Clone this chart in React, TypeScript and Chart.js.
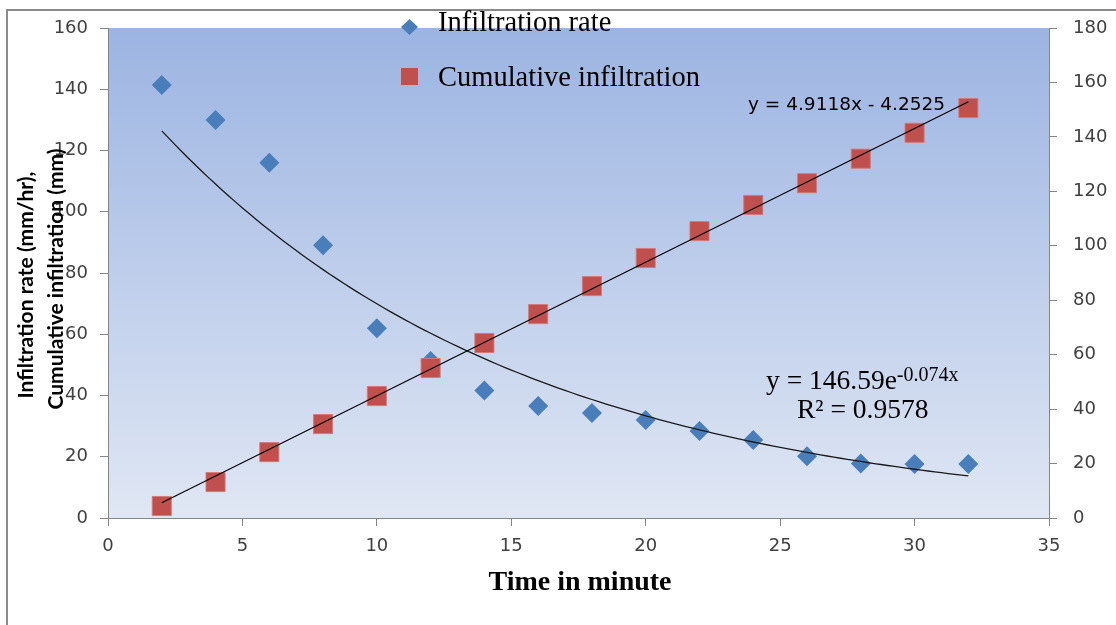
import { useEffect, useRef } from "react";
import { Chart, registerables } from "chart.js";

Chart.register(...registerables);

// ---- Data ----
const timeMinutes = [2, 4, 6, 8, 10, 12, 14, 16, 18, 20, 22, 24, 26, 28, 30, 32];
const infiltrationRate = [141.4, 130, 116, 89.1, 62, 51.3, 41.6, 36.6, 34.3, 32, 28.4, 25.5, 20.2, 17.8, 17.6, 17.6];
const cumulativeInfiltration = [4.4, 13.2, 24.2, 34.5, 44.8, 55.1, 64.3, 74.9, 85.2, 95.5, 105.4, 115, 123, 132, 141.5, 150.6];

// Trend-line coefficients printed on the chart
const linSlope = 4.9118;
const linIntercept = -4.2525;
const expA = 146.59;
const expB = -0.074;

const legendLabels = ["Infiltration rate", "Cumulative infiltration"];
const linEquationLabel = "y = 4.9118x - 4.2525";
const expEquationMain = "y = 146.59e";
const expEquationSup = "-0.074x";
const r2Label = "R\u00B2 = 0.9578";
const xTitle = "Time in minute";
const yTitleLines = ["Infiltration rate (mm/hr),", "Cumulative infiltration (mm)"];

const xMin = 0, xMax = 35, xStep = 5;
const yLeftMax = 160, yRightMax = 180, yStep = 20;

const BLUE = "#4a7ebb";
const RED = "#c0504d";
const AXIS = "#868686";
const TICK_TEXT = "#404040";

export default function App() {
  const canvasRef = useRef<HTMLCanvasElement | null>(null);

  useEffect(() => {
    const canvas = canvasRef.current;
    if (!canvas) return;

    const x0 = timeMinutes[0];
    const x1 = timeMinutes[timeMinutes.length - 1];
    const linTrend = [x0, x1].map((x) => ({ x, y: linSlope * x + linIntercept }));
    const expTrend: { x: number; y: number }[] = [];
    for (let x = x0; x <= x1 + 1e-9; x += 0.25) expTrend.push({ x, y: expA * Math.exp(expB * x) });

    const decor = {
      id: "decor",
      beforeDraw(chart: any) {
        const { ctx, chartArea: a, width, height } = chart;
        ctx.save();
        ctx.fillStyle = "#ffffff";
        ctx.fillRect(0, 0, width, height);
        const g = ctx.createLinearGradient(0, a.top, 0, a.bottom);
        g.addColorStop(0, "#9cb4e2");
        g.addColorStop(1, "#e0e7f4");
        ctx.fillStyle = g;
        ctx.fillRect(a.left, a.top, a.right - a.left, a.bottom - a.top);
        // outer frame
        ctx.strokeStyle = "#8a8a8a";
        ctx.lineWidth = 2;
        ctx.beginPath();
        ctx.moveTo(7, height);
        ctx.lineTo(7, 10);
        ctx.lineTo(width, 10);
        ctx.stroke();
        ctx.restore();
      },
      afterDraw(chart: any) {
        const { ctx } = chart;
        ctx.save();
        // Legend
        ctx.fillStyle = BLUE;
        ctx.beginPath();
        ctx.moveTo(409.5, 19);
        ctx.lineTo(418, 27);
        ctx.lineTo(409.5, 35);
        ctx.lineTo(401, 27);
        ctx.closePath();
        ctx.fill();
        ctx.fillStyle = RED;
        ctx.fillRect(401, 68, 17, 17);
        ctx.fillStyle = "#000";
        ctx.textAlign = "left";
        ctx.textBaseline = "alphabetic";
        ctx.font = "28.5px 'Liberation Serif', serif";
        ctx.fillText(legendLabels[0], 438, 31);
        ctx.fillText(legendLabels[1], 438, 86);

        // Linear equation
        ctx.fillStyle = "#000";
        ctx.font = "18.5px 'DejaVu Sans', sans-serif";
        ctx.fillText(linEquationLabel, 748, 110);

        // Exponential equation
        ctx.font = "27.5px 'Liberation Serif', serif";
        ctx.fillText(expEquationMain, 766, 389);
        const w = ctx.measureText(expEquationMain).width;
        ctx.font = "20px 'Liberation Serif', serif";
        ctx.fillText(expEquationSup, 766 + w, 381);
        ctx.font = "27.5px 'Liberation Serif', serif";
        ctx.fillText(r2Label, 797, 418);

        // X title
        ctx.font = "bold 28px 'Liberation Serif', serif";
        ctx.textAlign = "center";
        ctx.fillText(xTitle, 580, 590);

        // Y title (two rotated lines)
        ctx.font = "bold 21px Lato, sans-serif";
        ctx.textBaseline = "middle";
        ctx.save();
        ctx.translate(26, 285);
        ctx.rotate(-Math.PI / 2);
        ctx.fillText(yTitleLines[0], 0, 0);
        ctx.restore();
        ctx.save();
        ctx.translate(56, 279);
        ctx.rotate(-Math.PI / 2);
        ctx.fillText(yTitleLines[1], 0, 0);
        ctx.restore();
        ctx.restore();
      },
    };

    const gridOpts = {
      display: true,
      drawOnChartArea: false,
      drawTicks: true,
      tickLength: 8,
      color: AXIS,
    };
    const tickFont = { family: "'DejaVu Sans', sans-serif", size: 18 };

    const chart = new Chart(canvas, {
      type: "scatter",
      data: {
        datasets: [
          {
            label: "linTrend",
            data: linTrend,
            yAxisID: "y1",
            showLine: true,
            borderColor: "#000",
            borderWidth: 1.2,
            pointRadius: 0,
            fill: false,
          },
          {
            label: "expTrend",
            data: expTrend,
            yAxisID: "y",
            showLine: true,
            borderColor: "#1a1a1a",
            borderWidth: 1.3,
            pointRadius: 0,
            tension: 0,
            fill: false,
          },
          {
            label: legendLabels[1],
            data: timeMinutes.map((x, i) => ({ x, y: cumulativeInfiltration[i] })),
            yAxisID: "y1",
            pointStyle: "rect",
            pointRadius: 13.5,
            backgroundColor: RED,
            borderColor: "rgba(215,120,118,0.9)",
            borderWidth: 1,
          },
          {
            label: legendLabels[0],
            data: timeMinutes.map((x, i) => ({ x, y: infiltrationRate[i] })),
            yAxisID: "y",
            pointStyle: "rectRot",
            pointRadius: 10,
            backgroundColor: BLUE,
            borderColor: BLUE,
            borderWidth: 0,
          },
        ],
      },
      options: {
        responsive: false,
        animation: false,
        devicePixelRatio: 1,
        layout: { padding: { top: 28, left: 0, right: 0, bottom: 0 } },
        plugins: {
          legend: { display: false },
          tooltip: { enabled: false },
          title: { display: false },
        },
        scales: {
          x: {
            type: "linear",
            position: "bottom",
            min: xMin,
            max: xMax,
            ticks: { stepSize: xStep, color: TICK_TEXT, font: tickFont, padding: 10, maxRotation: 0 },
            grid: gridOpts,
            border: { display: true, color: AXIS, width: 1 },
            afterFit: (s: any) => {
              s.height = 107;
            },
          },
          y: {
            type: "linear",
            position: "left",
            min: 0,
            max: yLeftMax,
            ticks: { stepSize: yStep, color: TICK_TEXT, font: tickFont, padding: 12 },
            grid: gridOpts,
            border: { display: true, color: AXIS, width: 1 },
            afterFit: (s: any) => {
              s.width = 108;
            },
          },
          y1: {
            type: "linear",
            position: "right",
            min: 0,
            max: yRightMax,
            ticks: { stepSize: yStep, color: TICK_TEXT, font: tickFont, padding: 16 },
            grid: gridOpts,
            border: { display: true, color: AXIS, width: 1 },
            afterFit: (s: any) => {
              s.width = 67;
            },
          },
        },
      },
      plugins: [decor],
    } as any);

    return () => chart.destroy();
  }, []);

  return (
    <div style={{ position: "fixed", left: 0, top: 0, width: 1116, height: 625, background: "#fff" }}>
      <canvas ref={canvasRef} width={1116} height={625} style={{ display: "block" }} />
    </div>
  );
}
